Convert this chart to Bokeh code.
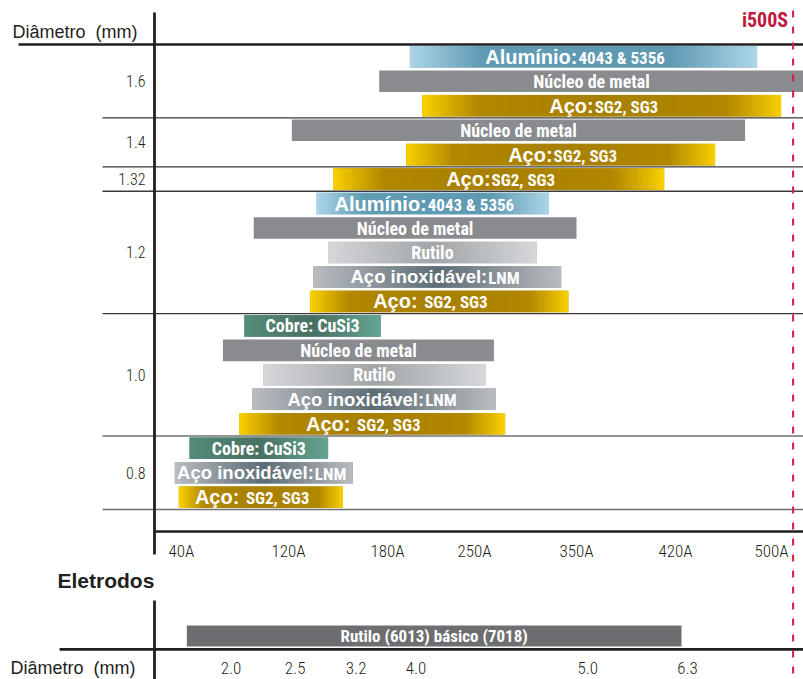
import numpy as np
from bokeh.plotting import figure
from bokeh.models import Range1d
from bokeh.core.properties import value
from bokeh.embed import file_html
from bokeh.resources import INLINE

# ---------------- data ----------------
TICK_AMPS = [40, 120, 180, 250, 350, 420, 500]
TICK_LABELS = ["40A", "120A", "180A", "250A", "350A", "420A", "500A"]

DIAMETER_GROUPS = ["1.6", "1.4", "1.32", "1.2", "1.0", "0.8"]
GROUP_SIZES = [3, 2, 1, 5, 5, 3]

WIRE_KIND = ["alu", "fcaw", "steel",
             "fcaw", "steel",
             "steel",
             "alu", "fcaw", "rutile", "stainless", "steel_sp",
             "copper", "fcaw", "rutile", "stainless", "steel_sp",
             "copper", "stainless", "steel_sp"]
WIRE_MAIN = ["Alumínio:", "Núcleo de metal", "Aço:",
             "Núcleo de metal", "Aço:",
             "Aço:",
             "Alumínio:", "Núcleo de metal", "Rutilo", "Aço inoxidável:", "Aço: ",
             "Cobre: CuSi3", "Núcleo de metal", "Rutilo", "Aço inoxidável:", "Aço: ",
             "Cobre: CuSi3", "Aço inoxidável:", "Aço: "]
WIRE_SUB = ["4043 & 5356", "", "SG2, SG3",
            "", "SG2, SG3",
            "SG2, SG3",
            "4043 & 5356", "", "", "LNM", "SG2, SG3",
            "", "", "", "LNM", "SG2, SG3",
            "", "LNM", "SG2, SG3"]
WIRE_MIN_A = [198, 175, 208,
              122, 195,
              147,
              137, 94, 144, 135, 133,
              87, 71, 101, 93, 83,
              46, 35, 38]
WIRE_MAX_A = [488, 527, 508,
              478, 453,
              412,
              323, 350, 311, 335, 342,
              176, 269, 261, 271, 280,
              144, 159, 153]

ELECTRODE_LABEL = "Rutilo (6013) básico (7018)"
ELECTRODE_MIN_A = 44
ELECTRODE_MAX_A = 425
ELECTRODE_DIAMETERS = ["2.0", "2.5", "3.2", "4.0", "5.0", "6.3"]
ELECTRODE_DIAMETER_A = [77, 124, 161, 203, 358, 430]

MACHINE_NAME = "i500S"
MACHINE_LIMIT_A = 518

# ---------------- layout / style ----------------
TICK_X = [27, 134, 233, 320, 422, 521, 617]   # where the (non-uniform) current ticks sit on the axis
BAR_H = 0.88
DARK = "#231f20"
RED_LINE = "#d21e46"
RED_TEXT = "#c0183c"
ARIAL = value("Liberation Sans")
COND = value("Roboto Condensed, Liberation Sans Narrow, DejaVu Sans Condensed, sans-serif")
THIN = value("Roboto Condensed Light, Roboto Condensed, Liberation Sans Narrow, sans-serif")
NB = "\u00a0"

BASE_COLOR = {"alu": "#6aa3bc", "fcaw": "#8a8b8f", "steel": "#b08700", "steel_sp": "#b08700",
              "rutile": "#b2b4b7", "stainless": "#7f8a90", "copper": "#4f8676"}
GOLD = [(0.0, (248, 208, 0)), (0.15, (178, 136, 0)), (0.5, (168, 128, 0)), (0.85, (178, 136, 0)),
        (1.0, (248, 208, 0))]
GRADIENTS = {
    "alu": [(0.0, (172, 213, 231)), (0.2, (97, 156, 181)), (0.75, (95, 154, 179)), (1.0, (172, 213, 231))],
    "steel": GOLD,
    "steel_sp": GOLD,
    "rutile": [(0.0, (214, 215, 218)), (0.5, (162, 166, 169)), (1.0, (214, 216, 219))],
    "stainless": [(0.0, (186, 189, 193)), (0.5, (94, 109, 117)), (1.0, (186, 189, 193))],
    "copper": [(0.0, (84, 140, 122)), (0.5, (72, 112, 98)), (1.0, (102, 166, 150))],
}
SPLIT_PX = {"alu": -6, "steel": -8, "steel_sp": -16, "stainless": 50}
MAIN_SIZE = {"alu": "20px", "steel": "20px", "steel_sp": "20px", "stainless": "18.5px"}


def amp_to_x(a):
    """Piecewise axis of the chart: current (A) -> axis position, extended past the end ticks."""
    a = np.atleast_1d(np.asarray(a, dtype=float))
    xp = np.asarray(TICK_AMPS, float)
    fp = np.asarray(TICK_X, float)
    x = np.interp(a, xp, fp)
    lo, hi = a < xp[0], a > xp[-1]
    x[lo] = fp[0] + (a[lo] - xp[0]) * (fp[1] - fp[0]) / (xp[1] - xp[0])
    x[hi] = fp[-1] + (a[hi] - xp[-1]) * (fp[-1] - fp[-2]) / (xp[-1] - xp[-2])
    return x


def gradient_image(stops, n=120):
    t = np.linspace(0, 1, n)
    pos = [s[0] for s in stops]
    img = np.empty((1, n), dtype=np.uint32)
    view = img.view(dtype=np.uint8).reshape((1, n, 4))
    for c in range(3):
        view[0, :, c] = np.interp(t, pos, [s[1][c] for s in stops]).astype(np.uint8)
    view[0, :, 3] = 255
    return img


p = figure(width=803, height=679, x_range=Range1d(-154, 649), y_range=Range1d(-25.95, 1.798),
           x_axis_type=None, y_axis_type=None, toolbar_location=None, output_backend="svg",
           min_border=0, outline_line_color=None, background_fill_color="white",
           border_fill_color="white")

# ---------------- wire bars ----------------
n = len(WIRE_KIND)
slot = np.arange(n)
yc = -(slot + 0.5)
x0 = amp_to_x(WIRE_MIN_A)
x1 = amp_to_x(WIRE_MAX_A)
xc = (x0 + x1) / 2

p.hbar(y=yc, left=x0, right=x1, height=BAR_H,
       fill_color=[BASE_COLOR[k] for k in WIRE_KIND], line_color=None)

gi = [i for i in range(n) if WIRE_KIND[i] in GRADIENTS]
p.image_rgba(image=[gradient_image(GRADIENTS[WIRE_KIND[i]]) for i in gi],
             x=[x0[i] for i in gi], y=[yc[i] - BAR_H / 2 for i in gi],
             dw=[x1[i] - x0[i] for i in gi], dh=[BAR_H] * len(gi))

single = [i for i in range(n) if WIRE_SUB[i] == ""]
double = [i for i in range(n) if WIRE_SUB[i] != ""]

p.text(x=[xc[i] for i in single], y=[yc[i] for i in single], text=[WIRE_MAIN[i] for i in single],
       text_align="center", text_baseline="middle", text_color="white",
       text_font=COND, text_font_style="bold", text_font_size="18px")
p.text(x=[xc[i] for i in double], y=[yc[i] for i in double], text=[WIRE_MAIN[i] for i in double],
       x_offset=[SPLIT_PX[WIRE_KIND[i]] for i in double],
       text_align="right", text_baseline="middle", text_color="white",
       text_font=ARIAL, text_font_style="bold",
       text_font_size=[MAIN_SIZE[WIRE_KIND[i]] for i in double])
p.text(x=[xc[i] for i in double], y=[yc[i] for i in double], text=[WIRE_SUB[i] for i in double],
       x_offset=[SPLIT_PX[WIRE_KIND[i]] + 1 for i in double], y_offset=1,
       text_align="left", text_baseline="middle", text_color="white",
       text_font=COND, text_font_style="bold", text_font_size="17px")

# ---------------- frame of the upper chart ----------------
bounds = np.cumsum(GROUP_SIZES)
starts = bounds - np.asarray(GROUP_SIZES)
p.segment(x0=[-52] * len(bounds), y0=-bounds, x1=[649] * len(bounds), y1=-bounds,
          line_color=["#3a3a3a", "#3a3a3a", "#3a3a3a", "#3a3a3a", "#707070", "#707070"], line_width=1.4)
p.segment(x0=[-136], y0=[0], x1=[649], y1=[0], line_color=DARK, line_width=2.6)
p.segment(x0=[0], y0=[1.31], x1=[0], y1=[-20.84], line_color=DARK, line_width=2.8)
p.segment(x0=[0], y0=[-(bounds[-1] + 0.9)], x1=[649], y1=[-(bounds[-1] + 0.9)], line_color=DARK, line_width=2.6)

p.text(x=[-9] * len(DIAMETER_GROUPS), y=-(starts + np.asarray(GROUP_SIZES) / 2), text=DIAMETER_GROUPS,
       text_align="right", text_baseline="middle", text_color=DARK, text_font=THIN, text_font_size="16px")
p.text(x=[-142], y=[0.53], text=["Diâmetro" + NB + NB + "(mm)"], text_align="left", text_baseline="middle",
       text_color=DARK, text_font=ARIAL, text_font_size="18px")
p.text(x=amp_to_x(TICK_AMPS), y=[-20.68] * len(TICK_AMPS), text=TICK_LABELS,
       text_align="center", text_baseline="middle", text_color=DARK, text_font=THIN, text_font_size="17px")

# ---------------- electrodes ----------------
p.text(x=[-97], y=[-21.9], text=["Eletrodos"], text_align="left", text_baseline="middle",
       text_color=DARK, text_font=ARIAL, text_font_style="bold", text_font_size="21px")
p.segment(x0=[0], y0=[-22.72], x1=[0], y1=[-26.0], line_color=DARK, line_width=2.8)
p.segment(x0=[-95], y0=[-24.72], x1=[649], y1=[-24.72], line_color=DARK, line_width=2.6)
ex0 = amp_to_x(ELECTRODE_MIN_A)[0]
ex1 = amp_to_x(ELECTRODE_MAX_A)[0]
p.hbar(y=[-24.17], left=[ex0], right=[ex1], height=0.86, fill_color="#6d6e71", line_color=None)
p.text(x=[(ex0 + ex1) / 2], y=[-24.17], text=[ELECTRODE_LABEL], text_align="center", text_baseline="middle",
       text_color="white", text_font=COND, text_font_style="bold", text_font_size="17px")
p.text(x=amp_to_x(ELECTRODE_DIAMETER_A), y=[-25.46] * len(ELECTRODE_DIAMETERS), text=ELECTRODE_DIAMETERS,
       text_align="center", text_baseline="middle", text_color=DARK, text_font=THIN, text_font_size="17px")
p.text(x=[-144], y=[-25.46], text=["Diâmetro" + NB + NB + "(mm)"], text_align="left", text_baseline="middle",
       text_color=DARK, text_font=ARIAL, text_font_size="18px")

# ---------------- machine limit ----------------
mx = amp_to_x(MACHINE_LIMIT_A)[0]
p.segment(x0=[mx], y0=[1.39], x1=[mx], y1=[-26.0], line_color=RED_LINE, line_width=2, line_dash="7 9")
p.text(x=[mx], y=[1.0], x_offset=-5, text=[MACHINE_NAME], text_align="right", text_baseline="middle",
       text_color=RED_TEXT, text_font=COND, text_font_style="bold", text_font_size="20px")

open("out.html", "w").write(file_html(p, INLINE))
